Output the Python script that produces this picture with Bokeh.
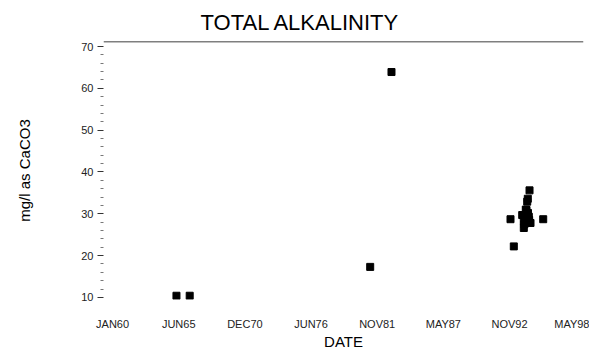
import datetime as dt
from bokeh.plotting import figure
from bokeh.models import FixedTicker, Span, Range1d, ColumnDataSource
from bokeh.embed import file_html
from bokeh.resources import INLINE

# ---- data ----
dates = ["1965-04-15", "1966-05-20", "1981-04-28", "1983-02-01",
         "1992-12-08", "1993-03-18", "1993-11-27", "1994-01-14", "1994-01-14",
         "1994-04-06", "1994-04-27", "1994-05-15", "1994-06-15", "1994-07-06",
         "1994-08-05", "1995-08-24", "1994-03-15", "1994-05-20", "1994-02-20",
         "1994-06-25", "1994-02-01"]
alkalinity = [10.4, 10.4, 17.3, 63.9,
              28.7, 22.2, 29.7, 28.2, 26.6,
              30.9, 32.9, 33.6, 29.3, 35.6,
              27.8, 28.7, 31.0, 30.2, 29.0,
              28.5, 27.5]
tick_days = [0, 2000, 4000, 6000, 8000, 10000, 12000, 14000]
tick_labels = ["JAN60", "JUN65", "DEC70", "JUN76", "NOV81", "MAY87", "NOV92", "MAY98"]
y_ticks = [10, 20, 30, 40, 50, 60, 70]

EPOCH = dt.date(1960, 1, 1)
days = [(dt.date.fromisoformat(d) - EPOCH).days for d in dates]
src = ColumnDataSource(dict(x=days, y=alkalinity))

X_START, X_END = -275, 14237
Y_START, Y_END = 9.5, 71.2

p = figure(width=589, height=352, output_backend="svg", toolbar_location=None,
           x_range=Range1d(X_START, X_END), y_range=Range1d(Y_START, Y_END),
           min_border_left=103, min_border_right=6, min_border_top=41, min_border_bottom=47)
p.outline_line_color = None
p.xgrid.grid_line_color = None
p.ygrid.grid_line_color = None
p.background_fill_color = "white"
p.border_fill_color = "white"

p.title.text = "TOTAL ALKALINITY"
p.title.align = "left"
p.title.offset = 97
p.title.text_font = "Liberation Sans"
p.title.text_font_size = "22px"
p.title.text_font_style = "normal"
p.title.text_color = "black"
p.title.standoff = 13

p.scatter("x", "y", source=src, marker="square", size=7,
          fill_color="black", line_color="black")

top = Span(location=Y_END, dimension="width", line_color="black", line_width=1.5)
p.add_layout(top)

xa = p.xaxis[0]
xa.ticker = FixedTicker(ticks=tick_days)
xa.major_label_overrides = {d: l for d, l in zip(tick_days, tick_labels)}
xa.axis_line_color = None
xa.major_tick_line_color = None
xa.minor_tick_line_color = None
xa.major_tick_out = 0
xa.major_tick_in = 0
xa.major_label_standoff = 18
xa.major_label_text_font = "Liberation Sans"
xa.major_label_text_font_size = "11px"
xa.major_label_text_color = "#222222"
xa.axis_label = "DATE"
xa.axis_label_text_font = "Liberation Sans"
xa.axis_label_text_font_size = "15px"
xa.axis_label_text_font_style = "normal"
xa.axis_label_text_color = "black"
xa.axis_label_standoff = 0

ya = p.yaxis[0]
ya.ticker = FixedTicker(ticks=y_ticks, minor_ticks=[v for v in range(10, 71, 2) if v % 10])
ya.axis_line_color = None
ya.major_tick_line_color = "#333333"
ya.major_tick_out = 6
ya.major_tick_in = 0
ya.minor_tick_line_color = "#777777"
ya.minor_tick_out = 3
ya.minor_tick_in = 0
ya.major_label_standoff = 4
ya.major_label_text_font = "Liberation Sans"
ya.major_label_text_font_size = "11px"
ya.major_label_text_color = "#222222"
ya.axis_label = "mg/l as CaCO3"
ya.axis_label_text_font = "Liberation Sans"
ya.axis_label_text_font_size = "15px"
ya.axis_label_text_font_style = "normal"
ya.axis_label_text_color = "black"
ya.axis_label_standoff = 45

open("out.html", "w").write(file_html(p, INLINE))
